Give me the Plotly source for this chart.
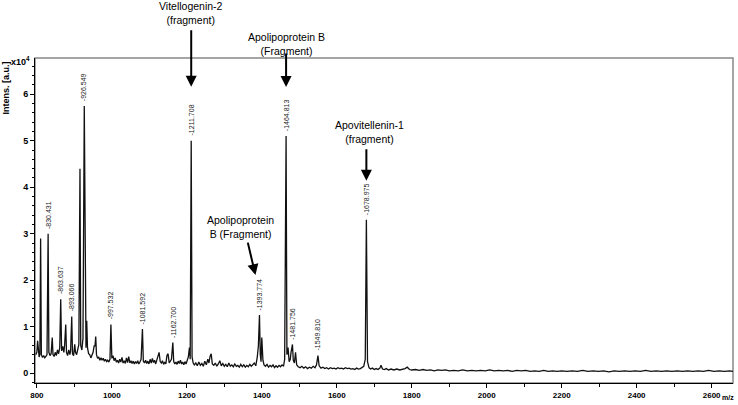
import plotly.graph_objects as go

# spectrum (m/z, intensity in units of 1e4 a.u.)
mz = [
    797, 800, 802, 804, 806, 808, 810, 812, 815, 818, 821, 824, 827, 830, 832, 835,
    838, 841, 843, 846, 849, 852, 855, 858, 861, 863.6, 866, 869, 872, 874, 877, 879,
    882, 885, 888, 890, 893, 895, 898, 901, 903, 906, 909, 912, 915, 917, 920, 923,
    926.5, 929, 931, 933, 935, 938, 941, 944, 947, 950, 953, 955, 957, 959, 962, 965,
    968, 971, 974, 977, 980, 983, 986, 989, 992, 995, 997.5, 1000, 1003, 1006, 1009,
    1012, 1015, 1018, 1021, 1024, 1027, 1030, 1033, 1036, 1039, 1042, 1045, 1048,
    1051, 1054, 1057, 1060, 1063, 1066, 1069, 1072, 1075, 1078, 1081.6, 1084, 1087,
    1090, 1093, 1096, 1099, 1102, 1105, 1108, 1111, 1114, 1117, 1120, 1123, 1126,
    1129, 1132, 1135, 1138, 1141, 1144, 1147, 1150, 1153, 1156, 1159, 1162.7, 1165,
    1168, 1171, 1174, 1177, 1180, 1183, 1186, 1189, 1192, 1195, 1198, 1201, 1204,
    1207, 1209, 1211.7, 1214, 1217, 1220, 1224, 1228, 1232, 1236, 1240, 1244, 1248,
    1252, 1256, 1259, 1262, 1265, 1268, 1272, 1276, 1280, 1284, 1288, 1292, 1296,
    1300, 1304, 1308, 1312, 1316, 1320, 1324, 1328, 1332, 1336, 1340, 1344, 1348,
    1352, 1356, 1360, 1364, 1368, 1372, 1376, 1380, 1384, 1388, 1391, 1393.8, 1396,
    1398, 1400, 1403, 1406, 1410, 1414, 1418, 1422, 1426, 1430, 1434, 1438, 1442,
    1446, 1450, 1454, 1458, 1461, 1464.8, 1467, 1470, 1473, 1476, 1478, 1481.8, 1484,
    1487, 1490, 1493, 1497, 1502, 1507, 1512, 1517, 1522, 1527, 1532, 1537, 1542,
    1546, 1549.8, 1553, 1558, 1563, 1568, 1573, 1578, 1583, 1588, 1593, 1598, 1603,
    1608, 1613, 1618, 1623, 1628, 1633, 1638, 1643, 1648, 1653, 1658, 1663, 1668,
    1672, 1676, 1679, 1682, 1686, 1690, 1695, 1700, 1705, 1710, 1715, 1718, 1722,
    1727, 1732, 1738, 1745, 1752, 1760, 1768, 1776, 1782, 1788, 1794, 1800, 1810,
    1820, 1830, 1840, 1850, 1860, 1870, 1880, 1890, 1900, 1912, 1924, 1936, 1948,
    1960, 1972, 1984, 1996, 2008, 2020, 2032, 2044, 2056, 2068, 2080, 2092, 2104,
    2116, 2128, 2140, 2152, 2164, 2176, 2188, 2200, 2214, 2228, 2242, 2256, 2270,
    2284, 2298, 2312, 2326, 2340, 2354, 2368, 2382, 2396, 2410, 2424, 2438, 2452,
    2466, 2480, 2494, 2508, 2522, 2536, 2550, 2564, 2578, 2592, 2606, 2620, 2634,
    2648, 2657,
]
intensity = [
    0.40, 0.45, 0.70, 0.38, 0.35, 0.40, 2.90, 0.40, 0.34, 0.38, 0.33, 0.36, 0.40, 3.00, 0.45, 0.38,
    0.42, 0.77, 0.40, 0.36, 0.45, 0.38, 0.50, 0.42, 0.55, 1.59, 0.48, 0.58, 0.45, 0.60, 1.05, 0.45,
    0.38, 0.50, 0.40, 0.48, 1.22, 0.42, 0.38, 0.62, 0.45, 0.40, 0.50, 0.62, 4.40, 0.60, 0.50, 0.75,
    5.75, 0.60, 0.55, 1.13, 0.55, 0.42, 0.40, 0.33, 0.38, 0.45, 0.60, 0.58, 0.79, 0.40, 0.32, 0.35,
    0.28, 0.33, 0.28, 0.32, 0.26, 0.30, 0.25, 0.28, 0.24, 0.30, 1.05, 0.32, 0.38, 0.27, 0.33,
    0.24, 0.28, 0.22, 0.30, 0.24, 0.34, 0.22, 0.27, 0.21, 0.33, 0.23, 0.36, 0.22,
    0.27, 0.21, 0.26, 0.20, 0.25, 0.21, 0.27, 0.20, 0.24, 0.30, 0.95, 0.26, 0.22,
    0.28, 0.21, 0.26, 0.20, 0.30, 0.22, 0.32, 0.23, 0.28, 0.20, 0.30, 0.38, 0.45,
    0.25, 0.22, 0.27, 0.19, 0.24, 0.20, 0.38, 0.42, 0.22, 0.25, 0.30, 0.66, 0.25,
    0.20, 0.24, 0.19, 0.26, 0.21, 0.28, 0.20, 0.24, 0.18, 0.25, 0.20, 0.26, 0.35,
    0.55, 0.30, 5.00, 0.35, 0.22, 0.18, 0.22, 0.16, 0.24, 0.17, 0.21, 0.15, 0.26,
    0.18, 0.30, 0.22, 0.36, 0.42, 0.20, 0.17, 0.22, 0.15, 0.20, 0.27, 0.16, 0.21,
    0.15, 0.19, 0.14, 0.22, 0.15, 0.18, 0.14, 0.20, 0.15, 0.17, 0.13, 0.19, 0.14,
    0.18, 0.13, 0.17, 0.14, 0.19, 0.15, 0.18, 0.22, 0.16, 0.35, 0.60, 1.25, 0.40,
    0.25, 0.77, 0.28, 0.18, 0.15, 0.19, 0.13, 0.17, 0.14, 0.18, 0.12, 0.16, 0.13,
    0.17, 0.14, 0.18, 0.15, 0.30, 5.10, 0.40, 0.55, 0.25, 0.30, 0.45, 0.62, 0.28,
    0.22, 0.45, 0.18, 0.14, 0.12, 0.15, 0.11, 0.14, 0.10, 0.13, 0.11, 0.15, 0.12,
    0.18, 0.38, 0.16, 0.11, 0.13, 0.10, 0.12, 0.09, 0.12, 0.10, 0.11, 0.09, 0.12,
    0.10, 0.11, 0.09, 0.12, 0.10, 0.11, 0.09, 0.10, 0.08, 0.11, 0.09, 0.10, 0.12,
    0.15, 0.30, 3.30, 0.25, 0.12, 0.09, 0.11, 0.08, 0.10, 0.08, 0.11, 0.17, 0.09,
    0.08, 0.10, 0.07, 0.09, 0.07, 0.09, 0.07, 0.08, 0.10, 0.13, 0.08, 0.07, 0.08,
    0.06, 0.08, 0.06, 0.07, 0.05, 0.07, 0.06, 0.07, 0.05, 0.06, 0.05, 0.07, 0.05,
    0.06, 0.05, 0.06, 0.05, 0.07, 0.05, 0.06, 0.05, 0.06, 0.04, 0.06, 0.05, 0.06,
    0.04, 0.05, 0.04, 0.06, 0.04, 0.05, 0.04, 0.05, 0.04, 0.05, 0.04, 0.06, 0.04,
    0.05, 0.04, 0.05, 0.03, 0.05, 0.04, 0.05, 0.04, 0.05, 0.04, 0.06, 0.04, 0.05,
    0.04, 0.05, 0.04, 0.05, 0.04, 0.05, 0.04, 0.05, 0.04, 0.06, 0.04, 0.05, 0.04,
    0.05, 0.04,
]

# labelled peaks
peak_mz = [830.431, 863.637, 893.066, 926.549, 997.532, 1081.592, 1162.700,
           1211.708, 1393.774, 1464.813, 1481.756, 1549.810, 1678.975]
peak_int = [3.00, 1.59, 1.22, 5.75, 1.05, 0.95, 0.66, 5.00, 1.25, 5.10, 0.62, 0.38, 3.30]
peak_labels = ["%.3f" % m for m in peak_mz]

# identified proteins
protein_text = ["Vitellogenin-2<br>(fragment)", "Apolipoprotein B<br>(Fragment)",
                "Apovitellenin-1<br>(fragment)", "Apolipoprotein<br>B (Fragment)"]
protein_mz = [1211.708, 1464.813, 1678.975, 1393.774]
protein_int = [5.00, 5.10, 3.30, 1.25]

x_ticks = [800, 1000, 1200, 1400, 1600, 1800, 2000, 2200, 2400, 2600]
y_ticks = [0, 1, 2, 3, 4, 5, 6]

fig = go.Figure()
fig.add_trace(go.Scatter(
    x=mz, y=intensity, mode='lines',
    line=dict(color='#111111', width=1.3),
    showlegend=False, hoverinfo='skip'
))

tick_font = dict(family='Arial', size=9, color='black', weight='bold')
for m, v, lab in zip(peak_mz, peak_int, peak_labels):
    fig.add_annotation(
        x=m, y=v, text='-' + lab, showarrow=False, textangle=-90,
        xanchor='center', yanchor='bottom', yshift=3,
        font=dict(family='Arial', size=7, color='#222222')
    )

# (text yshift, text xshift, arrow tail ay, arrow standoff, arrow xshift, arrow yshift, ax)
protein_layout = [
    (128, 0, -112, 54, 0, 0, 0),
    (92, 0, -84, 49, 0, 0, 0),
    (88, 3, -72, 39, 0, 0, 0),
    (88, -19, -34, 0, -4, 40, -8),
]
for t, m, v, (ty, tx, ay, so, axs, ays, ax) in zip(protein_text, protein_mz, protein_int, protein_layout):
    fig.add_annotation(
        x=m, y=v, text=t, showarrow=False, xshift=tx, yshift=ty,
        xanchor='center', yanchor='middle',
        font=dict(family='Arial', size=10.5, color='black')
    )
    fig.add_annotation(
        x=m, y=v, text='', showarrow=True, ax=ax, ay=ay, standoff=so,
        xshift=axs, yshift=ays,
        arrowhead=2, arrowsize=1.1, arrowwidth=2, arrowcolor='black'
    )

fig.add_annotation(xref='paper', yref='paper', x=0, y=1, text='Intens. [a.u.]',
                   textangle=-90, showarrow=False, xanchor='right', yanchor='top',
                   xshift=-23, yshift=-2, font=dict(family='Arial', size=9, color='black', weight='bold'))
fig.add_annotation(xref='paper', yref='paper', x=0, y=1, text='x10<sup>4</sup>',
                   showarrow=False, xanchor='right', yanchor='middle',
                   xshift=-3, yshift=-3, font=dict(family='Arial', size=9, color='black', weight='bold'))
fig.add_annotation(xref='paper', yref='paper', x=1, y=0, text='m/z',
                   showarrow=False, xanchor='right', yanchor='top',
                   xshift=3, yshift=-9, font=dict(family='Arial', size=7, color='black', weight='bold'))

fig.add_shape(type='rect', xref='paper', yref='paper', x0=0, y0=0, x1=1, y1=1,
              line=dict(color='#888888', width=1.5), layer='below')

fig.update_xaxes(
    range=[795, 2657], tickvals=x_ticks, ticks='outside', ticklen=4, tickcolor='black',
    showline=True, linecolor='black', linewidth=1, showgrid=False, zeroline=False,
    tickfont=dict(family='Arial', size=8, color='black', weight='bold'),
    minor=dict(dtick=100, tick0=800, ticks='outside', ticklen=3, tickcolor='black')
)
fig.update_yaxes(
    range=[-0.21, 6.78], tickvals=y_ticks, ticks='outside', ticklen=4, tickcolor='black',
    showline=True, linecolor='black', linewidth=1, showgrid=False, zeroline=False,
    tickfont=tick_font, minor=dict(dtick=0.2, tick0=0, ticks='outside', ticklen=2, tickcolor='black')
)
fig.update_layout(
    width=738, height=405,
    margin=dict(l=35, r=5, t=58, b=19),
    plot_bgcolor='white', paper_bgcolor='white',
    showlegend=False
)
# drop the page's default body margin so the figure sits at the window's corner
fig.write_html("out.html", config={'displayModeBar': False},
               post_script="document.body.style.margin='0px';")
